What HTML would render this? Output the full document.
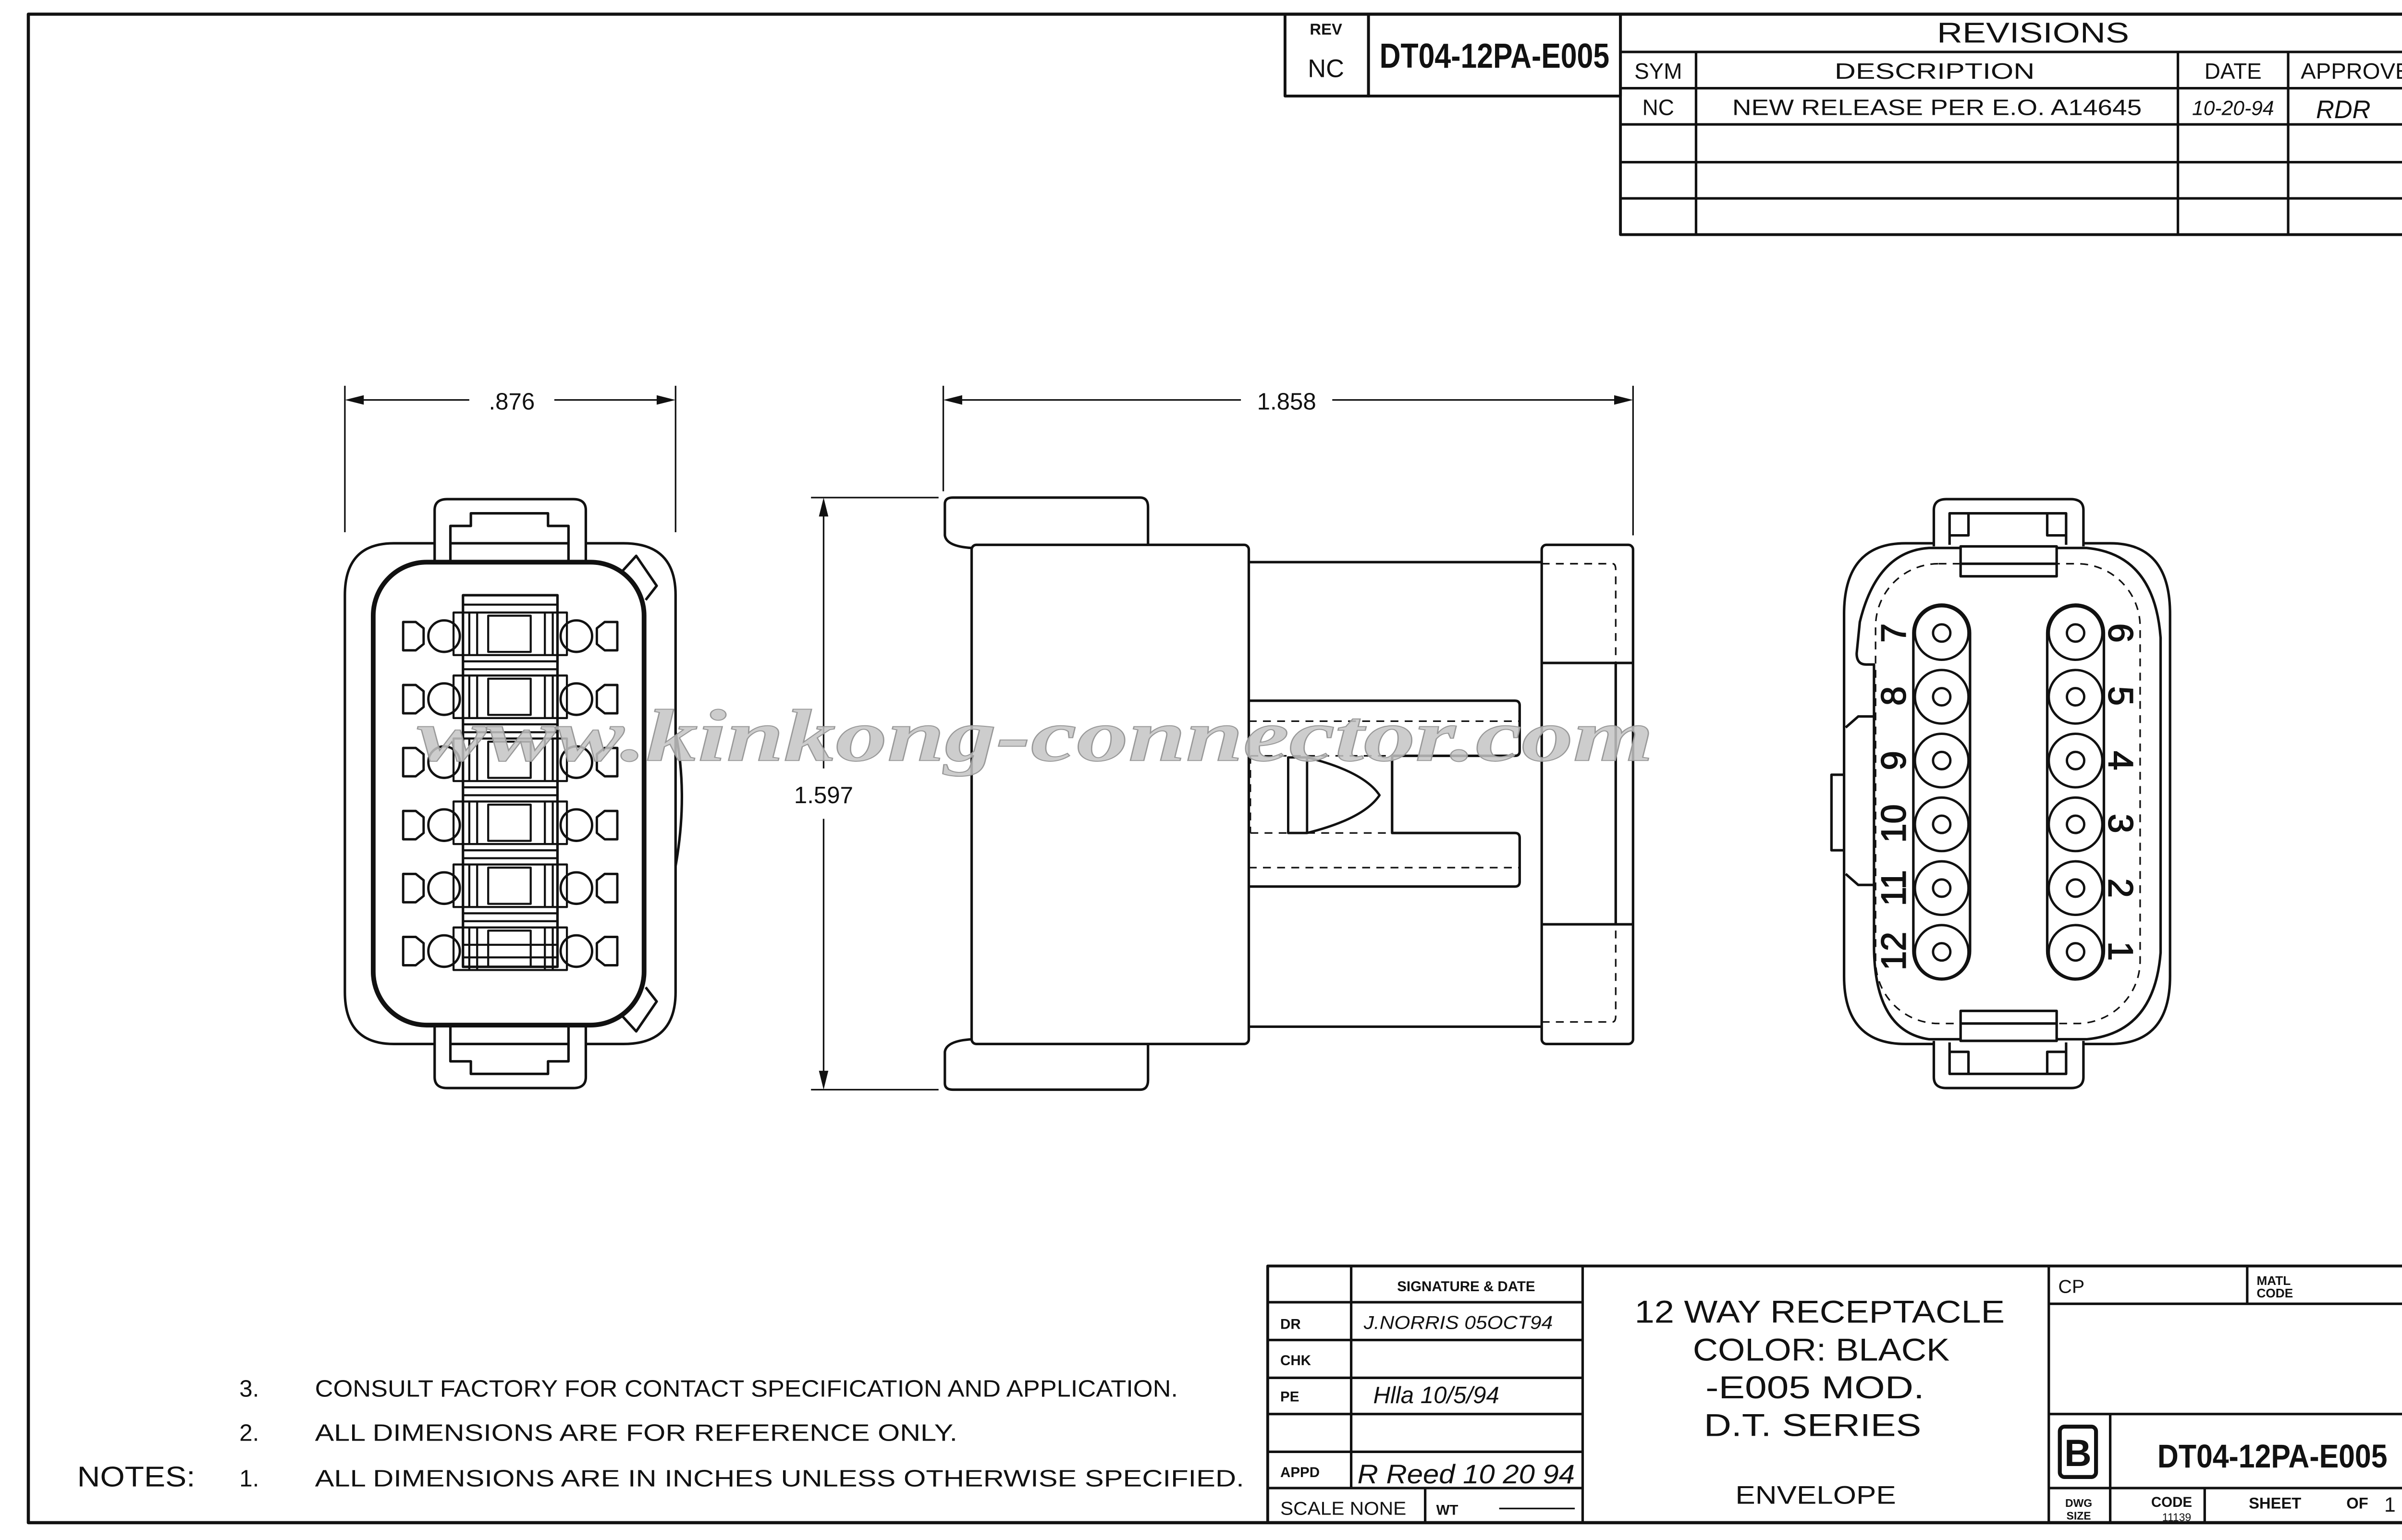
<!DOCTYPE html>
<html><head><meta charset="utf-8"><style>
html,body{margin:0;padding:0;background:#fff}
svg{display:block}
text{font-family:"Liberation Sans",sans-serif;fill:#111}
</style></head><body>
<svg width="5140" height="3206" viewBox="0 0 1568 978" preserveAspectRatio="none" xmlns="http://www.w3.org/2000/svg">
<g fill="none" stroke="#111" stroke-width="1.6" stroke-linejoin="round">
<rect x="18" y="9" width="1530" height="958" stroke-width="2"/>
<rect x="816" y="9" width="53" height="52" stroke-width="1.8"/>
<rect x="869" y="9" width="160" height="52" stroke-width="1.8"/>
<rect x="1029" y="9" width="519" height="140" stroke-width="1.8"/>
<line x1="1029" y1="33" x2="1548" y2="33"/>
<line x1="1029" y1="56" x2="1548" y2="56"/>
<line x1="1029" y1="79" x2="1548" y2="79"/>
<line x1="1029" y1="103" x2="1548" y2="103"/>
<line x1="1029" y1="126" x2="1548" y2="126"/>
<line x1="1077" y1="33" x2="1077" y2="149"/>
<line x1="1383" y1="33" x2="1383" y2="149"/>
<line x1="1453" y1="33" x2="1453" y2="149"/>
<rect x="805" y="804" width="743" height="163" stroke-width="1.8"/>
<line x1="1005" y1="804" x2="1005" y2="967"/>
<line x1="1301" y1="804" x2="1301" y2="967"/>
<line x1="858" y1="804" x2="858" y2="945"/>
<line x1="805" y1="827" x2="1005" y2="827"/>
<line x1="805" y1="851" x2="1005" y2="851"/>
<line x1="805" y1="875" x2="1005" y2="875"/>
<line x1="805" y1="898" x2="1005" y2="898"/>
<line x1="805" y1="922" x2="1005" y2="922"/>
<line x1="805" y1="945" x2="1005" y2="945"/>
<line x1="905" y1="945" x2="905" y2="967"/>
<line x1="1301" y1="828" x2="1548" y2="828"/>
<line x1="1427" y1="804" x2="1427" y2="828"/>
<line x1="1301" y1="898" x2="1548" y2="898"/>
<line x1="1301" y1="945" x2="1548" y2="945"/>
<line x1="1340" y1="898" x2="1340" y2="967"/>
<line x1="1400" y1="945" x2="1400" y2="967"/>
<rect x="1308" y="906" width="23" height="32" rx="3" stroke-width="2.5"/>

<!-- LEFT VIEW -->
<line x1="219" y1="245" x2="219" y2="338" stroke-width="1"/>
<line x1="429" y1="245" x2="429" y2="338" stroke-width="1"/>
<line x1="221" y1="254" x2="298" y2="254" stroke-width="1"/>
<line x1="352" y1="254" x2="427" y2="254" stroke-width="1"/>
<path d="M276,345 H250 Q219,345 219,378 V630 Q219,663 250,663 H276"/>
<path d="M372,345 H396 Q429,345 429,378 V630 Q429,663 396,663 H372"/>
<rect x="237" y="357" width="172" height="294" rx="34" stroke-width="3"/>
<path d="M276,358 V324 Q276,317 284,317 H364 Q372,317 372,324 V358"/>
<path d="M286,358 V334 H299 V326 H348 V334 H361 V358 M286,345 H361"/>
<path d="M276,650 V684 Q276,691 284,691 H364 Q372,691 372,684 V650"/>
<path d="M286,650 V674 H299 V682 H348 V674 H361 V650 M286,663 H361"/>
<path d="M394,364 L404,353 L417,372 L410,381"/>
<path d="M394,644 L404,655 L417,636 L410,627"/>
<path d="M429,465 Q437,505 429,550"/>
<rect x="294" y="378" width="60" height="236"/>
<g stroke-width="1.3">
<path d="M294,384 H354 M294,600 H354 M294,608 H354"/>
<rect x="288" y="389" width="72" height="27"/><rect x="310" y="391" width="27" height="23"/>
<path d="M298,389 V416 M303,389 V416 M346,389 V416 M351,389 V416"/>
<rect x="288" y="429" width="72" height="27"/><rect x="310" y="431" width="27" height="23"/>
<path d="M298,429 V456 M303,429 V456 M346,429 V456 M351,429 V456 M294,420 H354 M294,425 H354"/>
<rect x="288" y="469" width="72" height="27"/><rect x="310" y="471" width="27" height="23"/>
<path d="M298,469 V496 M303,469 V496 M346,469 V496 M351,469 V496 M294,460 H354 M294,465 H354"/>
<rect x="288" y="509" width="72" height="27"/><rect x="310" y="511" width="27" height="23"/>
<path d="M298,509 V536 M303,509 V536 M346,509 V536 M351,509 V536 M294,500 H354 M294,505 H354"/>
<rect x="288" y="549" width="72" height="27"/><rect x="310" y="551" width="27" height="23"/>
<path d="M298,549 V576 M303,549 V576 M346,549 V576 M351,549 V576 M294,540 H354 M294,545 H354"/>
<rect x="288" y="589" width="72" height="27"/><rect x="310" y="591" width="27" height="23"/>
<path d="M298,589 V616 M303,589 V616 M346,589 V616 M351,589 V616 M294,580 H354 M294,585 H354"/>
</g>
<g stroke-width="1.5">
<g id="pr">
<path d="M256,395 h8 l5,4 v10 l-5,4 h-8 z"/><path d="M392,395 h-8 l-5,4 v10 l5,4 h8 z"/>
<ellipse cx="282" cy="404" rx="10" ry="10"/><ellipse cx="366" cy="404" rx="10" ry="10"/>
</g>
<use href="#pr" y="40"/><use href="#pr" y="80"/><use href="#pr" y="120"/><use href="#pr" y="160"/><use href="#pr" y="200"/>
</g>

<!-- MIDDLE VIEW -->
<line x1="599" y1="245" x2="599" y2="312" stroke-width="1"/>
<line x1="1037" y1="245" x2="1037" y2="340" stroke-width="1"/>
<line x1="601" y1="254" x2="788" y2="254" stroke-width="1"/>
<line x1="846" y1="254" x2="1035" y2="254" stroke-width="1"/>
<line x1="515" y1="316" x2="596" y2="316" stroke-width="1"/>
<line x1="515" y1="692" x2="596" y2="692" stroke-width="1"/>
<line x1="523" y1="318" x2="523" y2="488" stroke-width="1"/>
<line x1="523" y1="520" x2="523" y2="690" stroke-width="1"/>
<path d="M617,348 Q601,347 600,340 V320 Q600,316 605,316 H724 Q729,316 729,322 V346"/>
<path d="M617,660 Q601,661 600,668 V688 Q600,692 605,692 H724 Q729,692 729,686 V663"/>
<rect x="617" y="346" width="176" height="317" rx="3"/>
<path d="M793,357 H979 M793,652 H979"/>
<path d="M793,445 H962 Q965,445 965,448 V477 Q965,480 962,480 H884 M793,563 H962 Q965,563 965,560 V532 Q965,529 962,529 H884 V480"/>
<rect x="979" y="346" width="58" height="317" rx="3"/>
<path d="M979,421 H1037 M979,587 H1037 M1026,421 V587"/>
<path d="M818,529 V481 H830 V529 Z M830,481 Q866,490 876,505 Q866,520 830,529" stroke-width="1.5"/>
<g stroke-dasharray="5,4" stroke-width="1">
<path d="M793,458 H965 M793,551 H965 M794,480 V529 M794,480 H884 M794,529 H884"/>
<path d="M979,358 H1024 Q1026,358 1026,362 V421 M979,649 H1024 Q1026,649 1026,645 V587"/>
</g>

<!-- RIGHT VIEW -->
<path d="M1228,345 H1210 Q1171,345 1171,390 V620 Q1171,663 1210,663 H1228"/>
<path d="M1323,345 H1340 Q1378,345 1378,390 V620 Q1378,663 1340,663 H1323"/>
<path d="M1245,348 H1225 Q1192,350 1181,395 L1179,415 Q1179,422 1185,422 H1190 V600 Q1190,655 1225,660 H1245 M1306,348 H1325 Q1368,352 1372,405 V605 Q1368,656 1325,660 H1306"/>
<path d="M1171,492 H1163 V540 H1171"/>
<path d="M1172,462 L1180,455 H1190"/>
<path d="M1172,555 L1180,562 H1190"/>
<path d="M1228,347 V324 Q1228,317 1236,317 H1315 Q1323,317 1323,324 V347"/>
<path d="M1238,346 V326 H1312 V346 M1238,340 H1250 V326 M1312,340 H1300 V326"/>
<path d="M1245,347 H1306 V366 H1245 Z M1245,358 H1306"/>
<path d="M1228,661 V684 Q1228,691 1236,691 H1315 Q1323,691 1323,684 V661"/>
<path d="M1238,662 V682 H1312 V662 M1238,668 H1250 V682 M1312,668 H1300 V682"/>
<path d="M1245,661 H1306 V642 H1245 Z M1245,650 H1306"/>
<rect x="1191" y="358" width="168" height="292" rx="40" stroke-dasharray="5,4" stroke-width="1"/>
<rect x="1215" y="384" width="36" height="238" rx="18"/>
<rect x="1300" y="384" width="36" height="238" rx="18"/>
<g stroke-width="1.5">
<g id="pc">
<circle cx="1233" cy="402" r="17"/><circle cx="1233" cy="402" r="5.5"/>
<circle cx="1318" cy="402" r="17"/><circle cx="1318" cy="402" r="5.5"/>
</g>
<use href="#pc" y="40.5"/><use href="#pc" y="81"/><use href="#pc" y="121.5"/><use href="#pc" y="162"/><use href="#pc" y="202.5"/>
</g>
</g>
<g fill="#111">
<path d="M219,254 l12,-3 v6 z"/><path d="M429,254 l-12,-3 v6 z"/>
<path d="M599,254 l12,-3 v6 z"/><path d="M1037,254 l-12,-3 v6 z"/>
<path d="M523,316 l-3,12 h6 z"/><path d="M523,692 l-3,-12 h6 z"/>
</g>

<text x="325" y="260" font-size="15" text-anchor="middle">.876</text>
<text x="817" y="260" font-size="15" text-anchor="middle">1.858</text>
<text x="523" y="510" font-size="15" text-anchor="middle">1.597</text>

<g font-size="22" stroke="#111" stroke-width="0.6">
<text transform="translate(1202,402) rotate(-90)" text-anchor="middle" dy="8">7</text>
<text transform="translate(1202,442) rotate(-90)" text-anchor="middle" dy="8">8</text>
<text transform="translate(1202,483) rotate(-90)" text-anchor="middle" dy="8">9</text>
<text transform="translate(1202,523) rotate(-90)" text-anchor="middle" dy="8">10</text>
<text transform="translate(1202,564) rotate(-90)" text-anchor="middle" dy="8">11</text>
<text transform="translate(1202,604) rotate(-90)" text-anchor="middle" dy="8">12</text>
<text transform="translate(1347,402) rotate(90)" text-anchor="middle" dy="8">6</text>
<text transform="translate(1347,442) rotate(90)" text-anchor="middle" dy="8">5</text>
<text transform="translate(1347,483) rotate(90)" text-anchor="middle" dy="8">4</text>
<text transform="translate(1347,523) rotate(90)" text-anchor="middle" dy="8">3</text>
<text transform="translate(1347,564) rotate(90)" text-anchor="middle" dy="8">2</text>
<text transform="translate(1347,604) rotate(90)" text-anchor="middle" dy="8">1</text>
</g>

<text x="265" y="483" font-size="47" font-style="italic" font-weight="bold" textLength="785" lengthAdjust="spacingAndGlyphs" style="font-family:'Liberation Serif',serif;fill:#c4c4c4;fill-opacity:0.85;stroke:#999;stroke-width:0.6">www.kinkong-connector.com</text>

<text x="842" y="22" font-size="10" text-anchor="middle" font-weight="bold">REV</text>
<text x="842" y="49" font-size="16" text-anchor="middle">NC</text>
<text x="876" y="43" font-size="22" font-weight="bold" textLength="146" lengthAdjust="spacingAndGlyphs">DT04-12PA-E005</text>
<text x="1230" y="27" font-size="18" textLength="122" lengthAdjust="spacingAndGlyphs">REVISIONS</text>
<text x="1053" y="50" font-size="14" text-anchor="middle">SYM</text>
<text x="1165" y="50" font-size="14" textLength="127" lengthAdjust="spacingAndGlyphs">DESCRIPTION</text>
<text x="1418" y="50" font-size="14" text-anchor="middle">DATE</text>
<text x="1461" y="50" font-size="14" textLength="80" lengthAdjust="spacingAndGlyphs">APPROVED</text>
<text x="1053" y="73" font-size="14" text-anchor="middle">NC</text>
<text x="1100" y="73" font-size="14" textLength="260" lengthAdjust="spacingAndGlyphs">NEW RELEASE PER E.O. A14645</text>
<text x="1418" y="73" font-size="13" text-anchor="middle" font-style="italic">10-20-94</text>
<text x="1488" y="75" font-size="16" text-anchor="middle" font-style="italic">RDR</text>

<g font-size="15">
<text x="152" y="887">3.</text><text x="200" y="887" textLength="548" lengthAdjust="spacingAndGlyphs">CONSULT FACTORY FOR CONTACT SPECIFICATION AND APPLICATION.</text>
<text x="152" y="915">2.</text><text x="200" y="915" textLength="408" lengthAdjust="spacingAndGlyphs">ALL DIMENSIONS ARE FOR REFERENCE ONLY.</text>
<text x="49" y="944" font-size="18" textLength="75" lengthAdjust="spacingAndGlyphs">NOTES:</text>
<text x="152" y="944">1.</text><text x="200" y="944" textLength="590" lengthAdjust="spacingAndGlyphs">ALL DIMENSIONS ARE IN INCHES UNLESS OTHERWISE SPECIFIED.</text>
</g>

<text x="931" y="820" font-size="9" text-anchor="middle" font-weight="bold">SIGNATURE &amp; DATE</text>
<g font-size="9" font-weight="bold">
<text x="813" y="844">DR</text><text x="813" y="867">CHK</text><text x="813" y="890">PE</text>
<text x="813" y="938">APPD</text>
</g>
<text x="866" y="844" font-size="12" font-style="italic" textLength="120" lengthAdjust="spacingAndGlyphs">J.NORRIS  05OCT94</text>
<text x="872" y="891" font-size="15" font-style="italic">Hlla  10/5/94</text>
<text x="862" y="942" font-size="17" font-style="italic" textLength="138" lengthAdjust="spacingAndGlyphs">R Reed  10 20 94</text>
<text x="813" y="962" font-size="12" textLength="80" lengthAdjust="spacingAndGlyphs">SCALE NONE</text>
<text x="912" y="962" font-size="9" font-weight="bold">WT</text>
<line x1="952" y1="958" x2="1000" y2="958" stroke="#111" stroke-width="1"/>
<g font-size="20">
<text x="1038" y="840" textLength="235" lengthAdjust="spacingAndGlyphs">12 WAY RECEPTACLE</text>
<text x="1075" y="864" textLength="163" lengthAdjust="spacingAndGlyphs">COLOR: BLACK</text>
<text x="1083" y="888" textLength="139" lengthAdjust="spacingAndGlyphs">-E005 MOD.</text>
<text x="1082" y="912" textLength="138" lengthAdjust="spacingAndGlyphs">D.T. SERIES</text>
</g>
<text x="1102" y="955" font-size="16" textLength="102" lengthAdjust="spacingAndGlyphs">ENVELOPE</text>
<text x="1307" y="821" font-size="12">CP</text>
<text x="1433" y="816" font-size="8" font-weight="bold">MATL</text>
<text x="1433" y="824" font-size="8" font-weight="bold">CODE</text>
<text x="1319.5" y="931" font-size="24" font-weight="bold" text-anchor="middle">B</text>
<text x="1370" y="932" font-size="21" font-weight="bold" textLength="146" lengthAdjust="spacingAndGlyphs">DT04-12PA-E005</text>
<text x="1320" y="957" font-size="7" font-weight="bold" text-anchor="middle">DWG</text>
<text x="1320" y="965" font-size="7" font-weight="bold" text-anchor="middle">SIZE</text>
<text x="1366" y="957" font-size="9" font-weight="bold">CODE</text>
<text x="1373" y="966" font-size="7">11139</text>
<text x="1428" y="958" font-size="10" font-weight="bold">SHEET</text>
<text x="1490" y="958" font-size="10" font-weight="bold">OF</text>
<text x="1514" y="960" font-size="13">1</text>
</svg>
</body></html>
